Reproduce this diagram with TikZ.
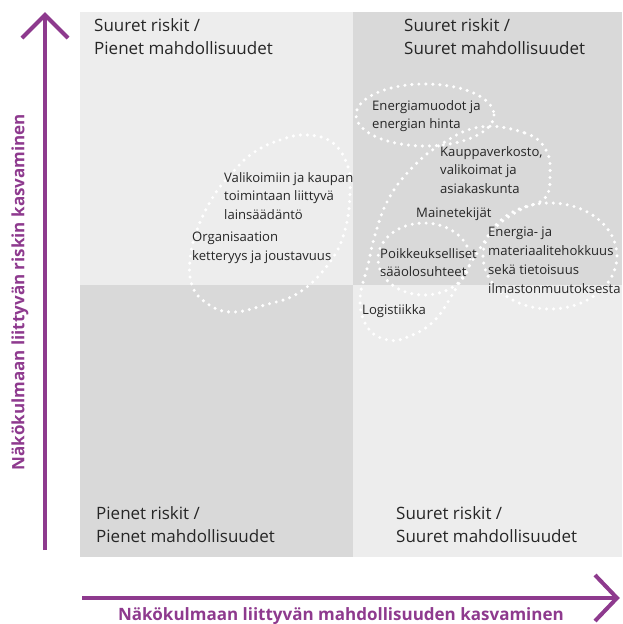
\documentclass[tikz,border=0pt]{standalone}
\usepackage{fontspec}
\setmainfont{Open Sans}
\definecolor{lightq}{HTML}{EDEDED}
\definecolor{darkq}{HTML}{D9D9D9}
\definecolor{purp}{HTML}{8E3A8E}
\begin{document}
\begin{tikzpicture}[x=1pt,y=-1pt,
  qlabel/.style={anchor=north west,inner sep=0pt,align=left,font=\fontsize{17}{23}\selectfont,text=black!85},
  ilabel/.style={anchor=north west,inner sep=0pt,align=left,font=\fontsize{13.1}{18.8}\selectfont,text=black!85},
  axlabel/.style={inner sep=0pt,font=\fontsize{17}{20}\selectfont\bfseries,text=purp},
  axis/.style={draw=purp,line width=4pt},
  chev/.style={draw=purp,line width=4pt,line join=miter},
  dots/.style={draw=white,line width=3.4pt,line cap=round,dash pattern=on 0pt off 7pt}]
\useasboundingbox (0,0) rectangle (622,624);
% quadrants
\fill[lightq] (80,12) rectangle (353,285);
\fill[darkq] (353,12) rectangle (622,285);
\fill[darkq] (80,285) rectangle (353,557);
\fill[lightq] (353,285) rectangle (622,557);
% dotted groupings
\draw[dots] (425,115) ellipse [x radius=69, y radius=31];
\draw[dots] plot[smooth cycle,tension=0.7] coordinates {(480,127) (525,133) (546,150) (550,175) (545,198) (520,210) (495,228) (474,258) (455,290) (435,320) (410,336) (388,340) (368,328) (360,300) (368,265) (375,235) (388,200) (410,170) (440,145)};
\draw[dots] (550,256) ellipse [x radius=67, y radius=53];
\draw[dots] (424,259) ellipse [x radius=46, y radius=36];
\draw[dots] plot[smooth cycle,tension=0.7] coordinates {(253,153) (280,140) (307,135) (333,143) (348,167) (350,193) (345,230) (330,262) (300,292) (265,305) (230,312) (205,302) (192,285) (190,260) (197,230) (213,197) (232,173)};
% quadrant labels
\node[qlabel] (tl) at (94,18) {Suuret riskit /\\Pienet mahdollisuudet};
\node[qlabel] (tr) at (404,18) {Suuret riskit /\\Suuret mahdollisuudet};
\node[qlabel] (bl) at (96,506) {Pienet riskit /\\Pienet mahdollisuudet};
\node[qlabel] (br) at (396,506) {Suuret riskit /\\Suuret mahdollisuudet};
% inner labels
\node[ilabel] (en) at (372,100) {Energiamuodot ja\\energian hinta};
\node[ilabel] (ka) at (440,146) {Kauppaverkosto,\\valikoimat ja\\asiakaskunta};
\node[ilabel] (ma) at (416,207) {Mainetekijät};
\node[ilabel] (em) at (488,227) {Energia- ja\\materiaalitehokkuus\\sekä tietoisuus\\ilmastonmuutoksesta};
\node[ilabel] (po) at (380,248) {Poikkeukselliset\\sääolosuhteet};
\node[ilabel] (lo) at (362,304) {Logistiikka};
\node[ilabel] (va) at (224,172) {Valikoimiin ja kaupan\\toimintaan liittyvä\\lainsäädäntö};
\node[ilabel] (or) at (192,232) {Organisaation\\ketteryys ja joustavuus};
% axes
\coordinate (vs) at (45,550);
\coordinate (vt) at (45,15);
\coordinate (vl) at (22,38);
\coordinate (vr) at (68,38);
\draw[axis] (vs) -- (vt);
\draw[chev] (vl) -- (vt) -- (vr);
\coordinate (hs) at (82,598);
\coordinate (ht) at (617,598);
\coordinate (hu) at (595,575);
\coordinate (hd) at (595,621);
\draw[axis] (hs) -- (ht);
\draw[chev] (hu) -- (ht) -- (hd);
\node[axlabel,rotate=90] (vlab) at (20,292) {Näkökulmaan liittyvän riskin kasvaminen};
\node[axlabel] (hlab) at (341,616) {Näkökulmaan liittyvän mahdollisuuden kasvaminen};
\end{tikzpicture}
\end{document}
